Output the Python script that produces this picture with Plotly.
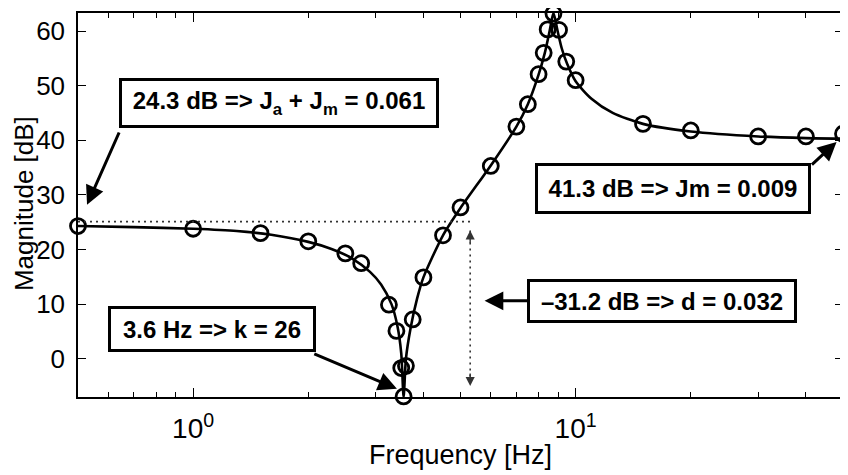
import math
import plotly.graph_objects as go

# measured points (circles)
meas_freq = [0.5, 1.0, 1.5, 2.0, 2.5, 2.75, 3.25, 3.4, 3.5, 3.55, 3.6, 3.75, 4.0, 4.5, 5.0,
             6.0, 7.0, 7.5, 8.0, 8.25, 8.45, 8.75, 9.05, 9.45, 10.0, 15.0, 20.0, 30.0, 40.0, 50.0]
meas_db = [24.3, 23.8, 23.0, 21.5, 19.3, 17.5, 9.9, 5.1, -1.7, -6.9, -1.3, 7.2, 14.9, 22.6, 27.7,
           35.3, 42.5, 46.6, 52.1, 56.0, 60.3, 63.2, 60.2, 54.4, 51.0, 43.0, 41.8, 40.7, 40.7, 41.2]

# fitted model curve
fit_freq = [0.5, 0.7, 1.0, 1.3, 1.6, 2.0, 2.3, 2.6, 2.9, 3.1, 3.3, 3.42, 3.5, 3.55, 3.6, 3.7, 3.85,
            4.0, 4.5, 5.0, 6.0, 7.0, 7.5, 8.0, 8.3, 8.55, 8.75, 8.95, 9.2, 9.5, 10.0, 11.0, 12.5,
            15.0, 20.0, 30.0, 40.0, 50.0]
fit_db = [24.3, 24.1, 23.8, 23.4, 22.7, 21.4, 20.1, 18.4, 15.9, 13.6, 10.0, 6.0, 1.0, -7.0, 0.0, 5.5,
          11.0, 14.9, 22.6, 27.6, 35.4, 42.5, 46.6, 52.0, 55.9, 60.0, 63.3, 60.3, 56.8, 54.0, 50.8,
          47.6, 45.0, 43.0, 41.6, 40.7, 40.4, 40.3]

y_ticks = [0, 10, 20, 30, 40, 50, 60]
x_major = [1, 10]
x_major_text = ["10<sup>0</sup>", "10<sup>1</sup>"]
x_minor = [0.6, 0.7, 0.8, 0.9, 2, 3, 4, 5, 6, 7, 8, 9, 20, 30, 40, 50]

labels = [
    "24.3 dB => J<sub>a</sub> + J<sub>m</sub> = 0.061",
    "41.3 dB => Jm = 0.009",
    "\u201331.2 dB => d = 0.032",
    "3.6 Hz => k = 26",
]
x_title = "Frequency [Hz]"
y_title = "Magnitude [dB]"

FONT = "Arial"

fig = go.Figure()
fig.add_trace(go.Scatter(x=fit_freq, y=fit_db, mode="lines",
                         line=dict(color="black", width=2.6, shape="spline", smoothing=0.7),
                         showlegend=False, hoverinfo="skip"))
fig.add_trace(go.Scatter(x=meas_freq, y=meas_db, mode="markers", cliponaxis=False,
                         marker=dict(symbol="circle-open", size=15, color="black",
                                     line=dict(width=2.8, color="black")),
                         showlegend=False))

# dotted reference lines
fig.add_shape(type="line", x0=0.5, x1=5.35, y0=25.1, y1=25.1, xref="x", yref="y",
              line=dict(color="#333", width=1.6, dash="2px,4px"))
fig.add_shape(type="line", x0=5.3, x1=5.3, y0=23.5, y1=-5.0, xref="x", yref="y",
              line=dict(color="#333", width=1.6, dash="2px,4px"))

# arrowheads on vertical dotted line
for yv, off in [(23.5, 14), (-5.0, -14)]:
    fig.add_annotation(x=math.log10(5.3), y=yv, xref="x", yref="y", text="", showarrow=True,
                       ax=0, ay=off, arrowhead=2, arrowsize=1.3, arrowwidth=1.4, arrowcolor="#333")

# text boxes
boxes = [
    (0.2627, 0.7656, 306, 36),
    (0.7784, 0.543, 262, 37),
    (0.7634, 0.25, 256, 30),
    (0.1758, 0.177, 194, 32),
]
for lab, (px, py, w, h) in zip(labels, boxes):
    fig.add_annotation(x=px, y=py, xref="paper", yref="paper", text="<b>" + lab + "</b>",
                       showarrow=False, xanchor="center", yanchor="middle",
                       font=dict(family=FONT, size=24, color="black"),
                       bgcolor="white", bordercolor="black", borderwidth=3, borderpad=4,
                       width=w, height=h)

# arrows (tail -> tip), in data coords
arrows = [
    ((0.643, 41.7), (0.528, 28.2)),
    ((41.1, 35.3), (48.1, 39.7)),
    ((7.54, 10.6), (5.78, 10.6)),
    ((2.055, 1.0), (3.41, -5.5)),
]
for (tx, ty), (hx, hy) in arrows:
    fig.add_annotation(x=math.log10(hx), y=hy, xref="x", yref="y", text="", showarrow=True,
                       ax=math.log10(tx), ay=ty, axref="x", ayref="y",
                       arrowhead=2, arrowsize=1.25, arrowwidth=3, arrowcolor="black")

# axis titles
fig.add_annotation(x=0.5, y=-0.151, xref="paper", yref="paper", text=x_title, showarrow=False,
                   xanchor="center", yanchor="middle", font=dict(family=FONT, size=27))
fig.add_annotation(x=-0.0706, y=0.505, xref="paper", yref="paper", text=y_title, showarrow=False,
                   textangle=-90, xanchor="center", yanchor="middle", font=dict(family=FONT, size=26))

fig.update_layout(
    width=840, height=467,
    margin=dict(l=70, r=5, t=5, b=78),
    paper_bgcolor="white", plot_bgcolor="white",
    font=dict(family=FONT, size=25, color="black"),
)
fig.update_xaxes(type="log", range=[math.log10(0.5), math.log10(50)], automargin=False,
                 tickvals=x_major, ticktext=x_major_text, ticks="inside", ticklen=9,
                 tickwidth=1.3, tickcolor="black", ticklabelstandoff=6,
                 minor=dict(tickvals=x_minor, ticks="inside", ticklen=5, tickwidth=1.3,
                            tickcolor="black"),
                 showline=True, linecolor="black", linewidth=1.5, mirror="ticks",
                 showgrid=False, zeroline=False,
                 tickfont=dict(family=FONT, size=28))
fig.update_yaxes(range=[-7.0, 63.3], tickvals=y_ticks, ticks="inside", ticklen=8, automargin=False,
                 tickwidth=1.3, tickcolor="black", ticklabelstandoff=6,
                 showline=True, linecolor="black", linewidth=1.5, mirror="ticks",
                 showgrid=False, zeroline=False,
                 tickfont=dict(family=FONT, size=26))

fig.write_html("out.html")
